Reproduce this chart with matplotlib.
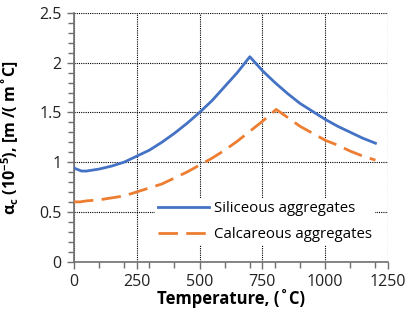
#Thermal expansion coefficient of concrete vs temperature
#Siliceous and calcareous aggregates

import matplotlib
matplotlib.use('Agg')
import matplotlib.pyplot as plt
import matplotlib.ticker as mtick

#Data (temperature in C, alpha_c in 1e-5 1/C)
temp_sil = [0, 30, 50, 100, 150, 200, 250, 300, 350, 400, 450, 500, 550, 600, 650,
            700, 750, 800, 850, 900, 950, 1000, 1050, 1100, 1150, 1200]
alpha_sil = [0.94, 0.91, 0.91, 0.93, 0.96, 1.00, 1.06, 1.12, 1.20, 1.29, 1.39, 1.50, 1.62, 1.76, 1.90,
             2.06, 1.92, 1.80, 1.69, 1.59, 1.51, 1.43, 1.36, 1.30, 1.24, 1.19]

temp_cal = [0, 25, 50, 100, 150, 200, 250, 300, 350, 400, 450, 500, 550, 600, 650,
            700, 750, 805, 850, 900, 950, 1000, 1050, 1100, 1150, 1200]
alpha_cal = [0.60, 0.60, 0.61, 0.62, 0.64, 0.66, 0.70, 0.74, 0.78, 0.84, 0.90, 0.97, 1.04, 1.12, 1.21,
             1.31, 1.41, 1.53, 1.45, 1.36, 1.29, 1.22, 1.17, 1.11, 1.06, 1.02]

labels = ['Siliceous aggregates', 'Calcareous aggregates']
xticks = [0, 250, 500, 750, 1000, 1250]
yticks = [0, 0.5, 1, 1.5, 2, 2.5]
yticklabels = ['0', '0.5', '1', '1.5', '2', '2.5']

plt.rcParams['font.family'] = ['Open Sans', 'DejaVu Sans']
plt.rcParams['mathtext.fontset'] = 'custom'
plt.rcParams['mathtext.rm'] = 'Open Sans'
plt.rcParams['mathtext.bf'] = 'Open Sans:bold'

blue = '#4472C4'
orange = '#ED7D31'
axcol = '#6f6f6f'

fig = plt.figure(figsize=(4.08, 3.2), dpi=100)
ax = fig.add_axes([74/408., 1-261.5/320., 314/408., 248.5/320.])

ax.plot(temp_sil, alpha_sil, color=blue, lw=2, label=labels[0], zorder=3)
ax.plot(temp_cal, alpha_cal, color=orange, lw=2, dashes=(7, 3), label=labels[1], zorder=3)

ax.set_xlim(0, 1250)
ax.set_ylim(0, 2.5)
ax.set_xticks(xticks)
ax.set_yticks(yticks)
ax.set_yticklabels(yticklabels)
ax.xaxis.set_minor_locator(mtick.MultipleLocator(100))
ax.yaxis.set_minor_locator(mtick.MultipleLocator(0.1))

#Frame: only left and bottom axis lines
ax.spines['top'].set_visible(False)
ax.spines['right'].set_visible(False)
for s in ['left', 'bottom']:
    ax.spines[s].set_color(axcol)
    ax.spines[s].set_linewidth(1.2)

ax.tick_params(axis='both', which='both', direction='out', color=axcol, width=1.0,
               labelsize=11.5, labelcolor='#222222')
ax.tick_params(axis='both', which='major', length=5, pad=4)
ax.tick_params(axis='both', which='minor', length=4)

ax.grid(True, which='major', color='black', linestyle=(0, (1, 1)), linewidth=0.8, zorder=0)
ax.set_axisbelow(True)

ax.set_xlabel('Temperature, (˚C)', fontsize=12, fontweight='bold')
ax.set_ylabel(r'α$_{\mathbf{c}}$ (10$^{\mathbf{-5}}$), [m /( m˚C]', fontsize=11.5,
              fontweight='bold')
ax.xaxis.set_label_coords(0.5, -(289-261.5)/248.5)
ax.yaxis.set_label_coords((21-74)/314., 0.5)

leg = ax.legend(loc='upper left', bbox_to_anchor=(155/408., 1-198/320.),
                bbox_transform=fig.transFigure, frameon=True, fontsize=10.8,
                handlelength=3.4, handletextpad=0.35, labelspacing=0.75,
                borderpad=0.2, borderaxespad=0)
leg.get_frame().set_facecolor('white')
leg.get_frame().set_edgecolor('none')
leg.get_frame().set_alpha(1)

plt.savefig('out.png', dpi=100)
